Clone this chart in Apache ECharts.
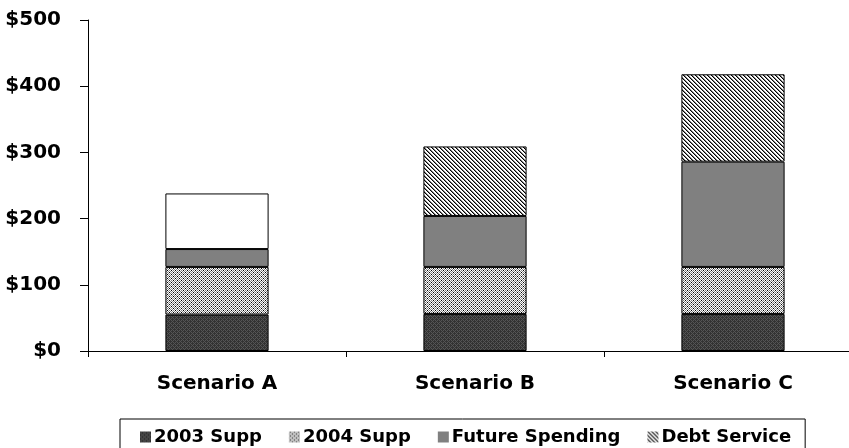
<!DOCTYPE html>
<html>
<head>
<meta charset="utf-8">
<script src="https://cdn.jsdelivr.net/npm/echarts@6/dist/echarts.min.js"></script>
<style>
  html, body { margin: 0; padding: 0; background: #ffffff; overflow: hidden; }
  /* the plot area runs a little past the visible right edge */
  #chart { width: 862px; height: 448px; }
</style>
</head>
<body>
<div id="chart"></div>
<script>
// Spending by scenario, in dollars (stacked components)
const scenarios = ['Scenario A', 'Scenario B', 'Scenario C'];
const supp2003 = [55, 56, 56];
const supp2004 = [72, 71, 71];
const futureSpending = [27, 77, 159];
const debtService = [84, 105, 132];
const seriesNames = ['2003 Supp', '2004 Supp', 'Future Spending', 'Debt Service'];
const yTicks = [0, 100, 200, 300, 400, 500];

// Small repeating pixel tiles used as fill textures
function tile(rows) {
  const h = rows.length, w = rows[0].length;
  const c = document.createElement('canvas');
  c.width = w; c.height = h;
  const ctx = c.getContext('2d');
  const pal = { K: '#000000', D: '#333333', M: '#555555', G: '#808080', L: '#c0c0c0', W: '#ffffff' };
  for (let y = 0; y < h; y++) {
    for (let x = 0; x < w; x++) {
      ctx.fillStyle = pal[rows[y][x]];
      ctx.fillRect(x, y, 1, 1);
    }
  }
  return { image: c, repeat: 'repeat' };
}

const fill2003 = tile(['DMDM', 'MDDD', 'DMDM', 'DDMD']);
const fill2004 = tile(['WKWG', 'GWGW', 'WGWK', 'GWGW']);
const fillFuture = '#808080';
const fillDebt = tile(['KGWW', 'WKGW', 'WWKG', 'GWWK']);

const font = 'DejaVu Sans';
const border = { borderColor: '#000000', borderWidth: 1 };

function barSeries(name, values, color) {
  return {
    name: name,
    type: 'bar',
    stack: 'total',
    barWidth: '40%',
    data: values,
    itemStyle: Object.assign({ color: color }, border),
    emphasis: { disabled: true }
  };
}

// Scenario A's debt service segment is drawn unfilled
const debtData = debtService.map((v, i) => i === 0 ? { value: v, itemStyle: { color: '#ffffff' } } : v);

const chart = echarts.init(document.getElementById('chart'), null, { renderer: 'canvas' });
chart.setOption({
  animation: false,
  backgroundColor: '#ffffff',
  grid: { left: 88, top: 20, right: 0, bottom: 97, containLabel: false },
  xAxis: {
    type: 'category',
    data: scenarios,
    axisLine: { lineStyle: { color: '#000000', width: 1 } },
    axisTick: { show: true, length: 6, lineStyle: { color: '#000000' } },
    axisLabel: { color: '#000000', fontFamily: font, fontWeight: 'bold', fontSize: 20, margin: 23 }
  },
  yAxis: {
    type: 'value',
    min: yTicks[0],
    max: yTicks[yTicks.length - 1],
    interval: yTicks[1] - yTicks[0],
    axisLine: { show: true, lineStyle: { color: '#000000', width: 1 } },
    axisTick: { show: true, length: 8, lineStyle: { color: '#000000' } },
    splitLine: { show: false },
    axisLabel: {
      color: '#000000', fontFamily: font, fontWeight: 'bold', fontSize: 20, margin: 27,
      formatter: v => '$' + v
    }
  },
  legend: {
    left: 120,
    top: 419,
    data: seriesNames,
    icon: 'rect',
    itemWidth: 11,
    itemHeight: 11,
    itemGap: 27,
    padding: [9, 14, 12, 20],
    borderColor: '#000000',
    borderWidth: 1,
    textStyle: { color: '#000000', fontFamily: font, fontWeight: 'bold', fontSize: 18, padding: [0, 0, 0, -2] },
    itemStyle: { borderWidth: 0 }
  },
  series: [
    barSeries(seriesNames[0], supp2003, fill2003),
    barSeries(seriesNames[1], supp2004, fill2004),
    barSeries(seriesNames[2], futureSpending, fillFuture),
    barSeries(seriesNames[3], debtData, fillDebt)
  ]
});
</script>
</body>
</html>
